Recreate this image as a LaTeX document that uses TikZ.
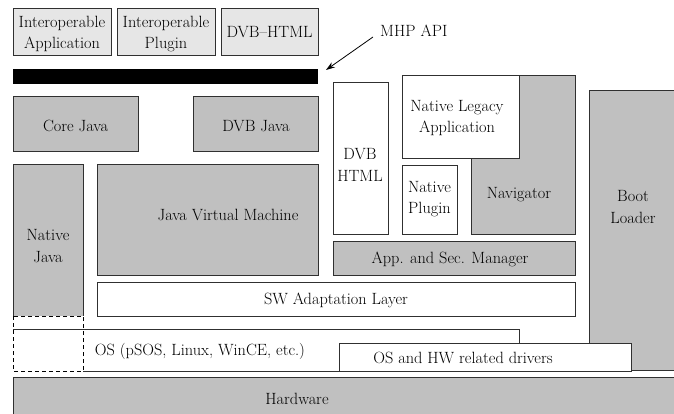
\documentclass[tikz,border=0pt]{standalone}
\usetikzlibrary{arrows.meta}
\definecolor{boxgray}{HTML}{C0C0C0}
\definecolor{lightgray}{HTML}{E6E6E6}
\definecolor{edge}{HTML}{303030}
\tikzset{
  gbox/.style={fill=boxgray, draw=edge, line width=1pt},
  wbox/.style={fill=white, draw=edge, line width=1pt},
  lbox/.style={fill=lightgray, draw=edge, line width=1pt},
  lbl/.style={inner sep=0pt, align=center, font=\fontsize{16.3}{21.5}\selectfont},
}
\begin{document}
\begin{tikzpicture}[x=1pt, y=-1pt]
\useasboundingbox (0,0) rectangle (674,414);
\clip (0,0) rectangle (674,414);

% MHP API layer: applications on top of the black API bar
\draw[lbox] (13,9) rectangle (111,56);
\draw[lbox] (117,9) rectangle (215,56);
\draw[lbox] (221,9) rectangle (318,56);
\fill[black] (13,69) rectangle (318,84);
\node[lbl] (interapp) at (62,34) {Interoperable\\Application};
\node[lbl] (interplug) at (166,34) {Interoperable\\Plugin};
\node[lbl] (dvbhtmltop) at (269.5,32.5) {DVB\textendash HTML};

% API label and pointer
\node[lbl, anchor=west] (mhp) at (380,31) {MHP API};
\coordinate (apitail) at (373,37);
\coordinate (apitip) at (326,70);
\draw[line width=0.8pt, -{Stealth[length=9pt, width=6pt]}] (apitail) -- (apitip);

% Java middleware
\draw[gbox] (13,97) rectangle (138,152);
\draw[gbox] (193,97) rectangle (318,152);
\node[lbl] (corejava) at (75.5,126) {Core Java};
\node[lbl] (dvbjava) at (256,126) {DVB Java};

\fill[boxgray] (13,165) rectangle (83,316);
\draw[edge, line width=1pt] (13,316) -- (13,165) -- (83,165) -- (83,316);
\node[lbl] (nativejava) at (48,246) {Native\\Java};

\draw[gbox] (97,165) rectangle (318,275);
\node[lbl] (jvm) at (228,215) {Java Virtual Machine};

% Native side
\draw[wbox] (333,83) rectangle (388,234);
\node[lbl] (dvbhtml) at (360,165) {DVB\\HTML};

\draw[gbox] (471,76) rectangle (575,234);
\draw[wbox] (402,76) rectangle (519,159);
\draw[wbox] (402,166) rectangle (457,234);
\node[lbl] (navigator) at (519,195) {Navigator};
\node[lbl] (legacy) at (457,118) {Native Legacy\\Application};
\node[lbl] (nplugin) at (429.5,199) {Native\\Plugin};

\draw[gbox] (333,241) rectangle (575,275);
\node[lbl] (appsec) at (450,259) {App. and Sec. Manager};

\draw[wbox] (97,282) rectangle (575,316);
\node[lbl] (swal) at (336,300) {SW Adaptation Layer};

% Boot loader
\draw[gbox] (589,91) rectangle (680,370);
\node[lbl] (boot) at (633,207) {Boot\\Loader};

% Operating system and drivers
\fill[white] (13,329) rectangle (519,371);
\draw[edge, line width=1pt] (83,371) -- (519,371) -- (519,329) -- (13,329);
\draw[black, line width=1pt, dash pattern=on 4pt off 3pt] (13,316) rectangle (83,371);
\node[lbl] (os) at (200,351) {OS (pSOS, Linux, WinCE, etc.)};

\draw[wbox] (339,343) rectangle (631,371);
\node[lbl] (drivers) at (463,358) {OS and HW related drivers};

% Hardware
\draw[gbox] (13,377) rectangle (680,420);
\node[lbl] (hw) at (297,399) {Hardware};
\end{tikzpicture}
\end{document}
